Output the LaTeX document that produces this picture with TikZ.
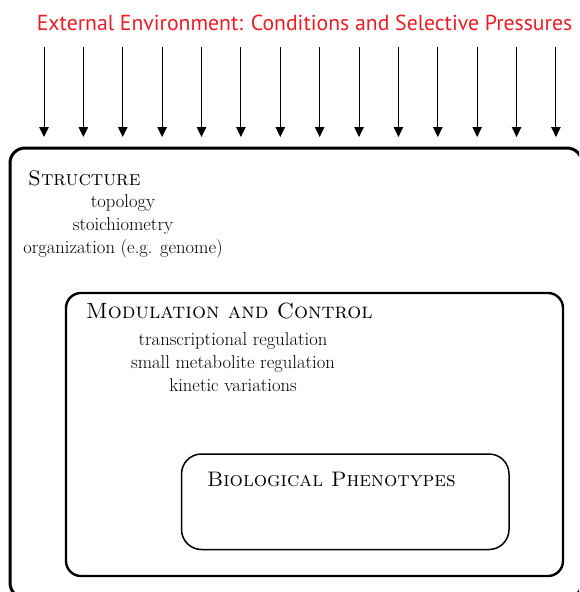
\documentclass[tikz,border=0pt]{standalone}
\usepackage{fontspec}
\usetikzlibrary{arrows.meta}
\newfontfamily\titlefont{PT Sans}
\definecolor{envred}{RGB}{237,28,36}
\tikzset{
  pressure/.style={-{Triangle[length=10pt,width=9.5pt]}, line width=0.9pt},
  outerbox/.style={draw, line width=3pt, rounded corners=15pt},
  middlebox/.style={draw, line width=2.4pt, rounded corners=15pt},
  innerbox/.style={draw, line width=1.5pt, rounded corners=20pt},
  heading/.style={anchor=base west, inner sep=0pt, font=\fontsize{21}{24}\selectfont\scshape},
  itemlist/.style={align=center, inner sep=0pt, anchor=north, font=\fontsize{18.6}{23}\selectfont}
}
\begin{document}
\begin{tikzpicture}[x=1pt,y=-1pt]
\useasboundingbox (0,0) rectangle (579,592);
\clip (0,0) rectangle (579,592);

% title
\node[text=envred, font=\titlefont\fontsize{21.7}{24}\selectfont, inner sep=0pt, anchor=base] (env) at (304.5,30)
  {External Environment: Conditions and Selective Pressures};

% nested compartments
\draw[outerbox] (10,148) rectangle (582,598);
\draw[middlebox] (66,293) rectangle (563,576);
\draw[innerbox] (181.5,454) rectangle (509,549.5);

% selective pressures acting on the system
\foreach \i in {0,...,13} {
  \coordinate (top\i) at ({44+\i*39.38},47);
  \coordinate (tip\i) at ({44+\i*39.38},137);
  \draw[pressure] (top\i) -- (tip\i);
}

% structure level
\node[heading] (structure) at (28,185) {Structure};
\node[itemlist] (structitems) at (123,194.5)
  {topology\\ stoichiometry\\ organization (e.g. genome)};

% modulation level
\node[heading, font=\fontsize{22}{24}\selectfont\scshape] (modulation) at (86,318) {Modulation and Control};
\node[itemlist] (moditems) at (233,332)
  {transcriptional regulation\\ small metabolite regulation\\ kinetic variations};

% phenotype level
\node[heading] (phenotypes) at (207,486) {Biological Phenotypes};
\end{tikzpicture}
\end{document}
